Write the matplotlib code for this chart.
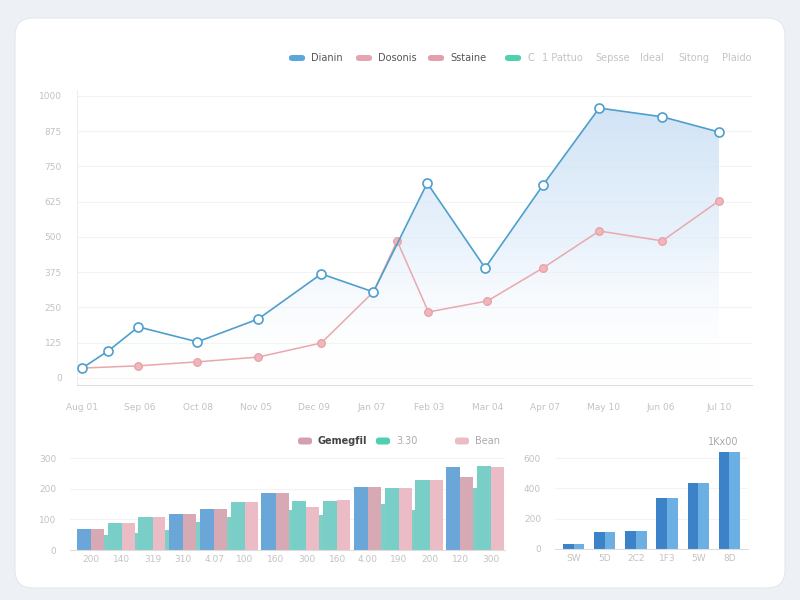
import numpy as np
import matplotlib
matplotlib.use("Agg")
import matplotlib.pyplot as plt
from matplotlib.patches import FancyBboxPatch, Polygon
from matplotlib.colors import LinearSegmentedColormap

# Main line chart ---------------------------------------------------------
month_labels = ["Aug 01", "Sep 06", "Oct 08", "Nov 05", "Dec 09", "Jan 07",
                "Feb 03", "Mar 04", "Apr 07", "May 10", "Jun 06", "Jul 10"]
blue_x = [0, 0.45, 0.97, 1.99, 3.04, 4.13, 5.03, 5.96, 6.96, 7.96, 8.93, 10.02, 11]
blue_y = [35, 96, 181, 128, 209, 369, 305, 691, 390, 684, 957, 926, 872]
pink_x = [0, 0.97, 1.99, 3.04, 4.13, 5.03, 5.44, 5.98, 7.0, 7.96, 8.93, 10.02, 11]
pink_y = [35, 43, 57, 74, 124, 305, 486, 234, 273, 390, 521, 486, 628]
main_yticks = [0, 125, 250, 375, 500, 625, 750, 875, 1000]

legend_main = ["Dianin", "Dosonis", "Sstaine", "C", "1 Pattuo", "Sepsse",
               "Ideal", "Sitong", "Plaido"]

# Bottom-left grouped bars ------------------------------------------------
bl_labels = ["200", "140", "319", "310", "4.07", "100", "160",
             "300", "160", "4.00", "190", "200", "120", "300"]
bl_left = [68, 88, 108, 118, 135, 157, 185, 161, 161, 207, 204, 228, 270, 274]
bl_right = [68, 88, 108, 118, 135, 157, 185, 139, 163, 207, 201, 228, 239, 270]
bl_stub = [49, 54, 65, 92, 107, 0, 130, 114, 0, 150, 130, 0, 204, 0]
bl_left_is_blue = [1, 0, 0, 1, 1, 0, 1, 0, 0, 1, 0, 0, 1, 0]
bl_yticks = [0, 100, 200, 300]
legend_bl = ["Gemegfil", "3.30", "Bean"]

# Bottom-right bars -------------------------------------------------------
br_labels = ["SW", "5D", "2C2", "1F3", "5W", "8D"]
br_vals = [33, 111, 118, 338, 433, 640]
br_yticks = [0, 200, 400, 600]
br_title = "1Kx00"

W, H = 800, 600
TICK = "#c2c2c2"


def fr(x, y):
    return x / W, 1 - y / H


def ax_at(fig, x0, y0, x1, y1):
    return fig.add_axes([x0 / W, 1 - y1 / H, (x1 - x0) / W, (y1 - y0) / H])


def legend_item(fig, x, y, color, text, tcolor, bold=False, w=16, h=6):
    p = FancyBboxPatch(fr(x, y + h / 2), w / W, h / H,
                       boxstyle="round,pad=0,rounding_size=0.004",
                       transform=fig.transFigure, color=color, lw=0, zorder=2)
    fig.patches.append(p)
    fig.text((x + w + 6) / W, 1 - y / H, text, fontsize=7, color=tcolor,
             va="center", ha="left", fontweight="bold" if bold else "normal")


def style(ax):
    ax.set_facecolor("none")
    for s in ["top", "right"]:
        ax.spines[s].set_visible(False)
    ax.spines["left"].set_color("#eeeeee")
    ax.spines["bottom"].set_color("#dddddd")
    ax.tick_params(length=0, labelsize=6.5, colors=TICK)
    ax.grid(axis="y", color="#f3f3f3", lw=0.8)
    ax.set_axisbelow(True)


fig = plt.figure(figsize=(8, 6), dpi=100)
fig.patch.set_facecolor("#edf1f6")
card = FancyBboxPatch((0.15, 0.12), 7.7, 5.7,
                      boxstyle="round,pad=0,rounding_size=0.18",
                      transform=fig.dpi_scale_trans, fc="white", ec="#e4e8ee",
                      lw=0.8, zorder=-10)
fig.patches.append(card)

# Main chart --------------------------------------------------------------
ax = ax_at(fig, 77, 90, 752, 385)
style(ax)
ax.set_yticks(main_yticks)
ax.set_yticklabels([str(v) for v in main_yticks])
ax.set_xticks(range(len(month_labels)))
ax.set_xticklabels(month_labels)
ax.tick_params(axis="x", pad=13, labelsize=6.5)
ax.tick_params(axis="y", pad=11, labelsize=6.5)

cmap = LinearSegmentedColormap.from_list(
    "fade", [(1, 1, 1, 0.0), (0.86, 0.92, 0.98, 0.6), (0.80, 0.88, 0.96, 0.9)])
grad = np.linspace(0, 1, 256).reshape(-1, 1)
img = ax.imshow(grad, cmap=cmap, origin="lower", aspect="auto",
                extent=[blue_x[0], blue_x[-1], 0, max(blue_y)], zorder=1)
poly = Polygon(list(zip(blue_x, blue_y)) + [(blue_x[-1], 0), (blue_x[0], 0)],
               closed=True, transform=ax.transData, fc="none", ec="none")
ax.add_patch(poly)
img.set_clip_path(poly)
ax.set_xlim(-0.09, 11.57)
ax.set_ylim(-25, 1021)

ax.plot(pink_x, pink_y, color="#e9a8ae", lw=1.1, marker="o", ms=5.5,
        mfc="#f1b6bb", mec="#e7a0a7", mew=0.9, zorder=3)
ax.plot(blue_x, blue_y, color="#4f9fcc", lw=1.2, marker="o", ms=6.5,
        mfc="white", mec="#4f9fcc", mew=1.2, zorder=4)

# top legend
leg_x = [289, 356, 428, 505]
leg_c = ["#5aa7de", "#e4a5b0", "#e2a0ad", "#4fd1b0"]
for i, (x, c) in enumerate(zip(leg_x, leg_c)):
    legend_item(fig, x, 58, c, legend_main[i], "#555555" if i < 3 else "#bbbbbb")
for x, t in zip([542, 595, 640, 678, 722], legend_main[4:]):
    fig.text(x / W, 1 - 58 / H, t, fontsize=7, color="#c4c4c4", va="center")

# Bottom-left grouped bars -----------------------------------------------
ax2 = ax_at(fig, 70, 452, 505, 550)
style(ax2)
xs = np.arange(len(bl_labels))
ax2.set_xlim(-0.68, 13.45)
ax2.set_ylim(0, 320)
ax2.bar(xs + 0.5, bl_stub, width=0.3, color="#7fcfc6", zorder=1)
lc = ["#6aa6d8" if b else "#79cfc7" for b in bl_left_is_blue]
rc = ["#d7a9b5" if b else "#ecbcc6" for b in bl_left_is_blue]
ax2.bar(xs - 0.46, bl_left, width=0.46, align="edge", color=lc, zorder=2)
ax2.bar(xs, bl_right, width=0.42, align="edge", color=rc, zorder=2)
ax2.set_xticks(xs)
ax2.set_xticklabels(bl_labels)
ax2.set_yticks(bl_yticks)
ax2.set_yticklabels([str(v) for v in bl_yticks])
ax2.tick_params(axis="y", pad=10)
ax2.spines["left"].set_visible(False)

for x, c, t, tc, b in zip([298, 376, 455], ["#d4a0ad", "#4fcfb0", "#ecbcc5"],
                          legend_bl, ["#444444", "#aaaaaa", "#aaaaaa"],
                          [True, False, False]):
    legend_item(fig, x, 441, c, t, tc, bold=b, w=14, h=7)

# Bottom-right bars -------------------------------------------------------
ax3 = ax_at(fig, 555, 450, 748, 549)
style(ax3)
xr = np.arange(len(br_labels))
ax3.set_xlim(-0.6, 5.6)
ax3.set_ylim(0, 653)
ax3.bar(xr - 0.34, br_vals, width=0.34, align="edge", color="#3b82c8", zorder=2)
ax3.bar(xr, br_vals, width=0.34, align="edge", color="#6cafe3", zorder=2)
ax3.set_xticks(xr)
ax3.set_xticklabels(br_labels)
ax3.set_yticks(br_yticks)
ax3.set_yticklabels([str(v) for v in br_yticks])
ax3.tick_params(axis="y", pad=10)
ax3.spines["left"].set_visible(False)
fig.text(738 / W, 1 - 442 / H, br_title, fontsize=7, color="#aaaaaa",
         ha="right", va="center")

fig.savefig("out.png", dpi=100, facecolor=fig.get_facecolor())
